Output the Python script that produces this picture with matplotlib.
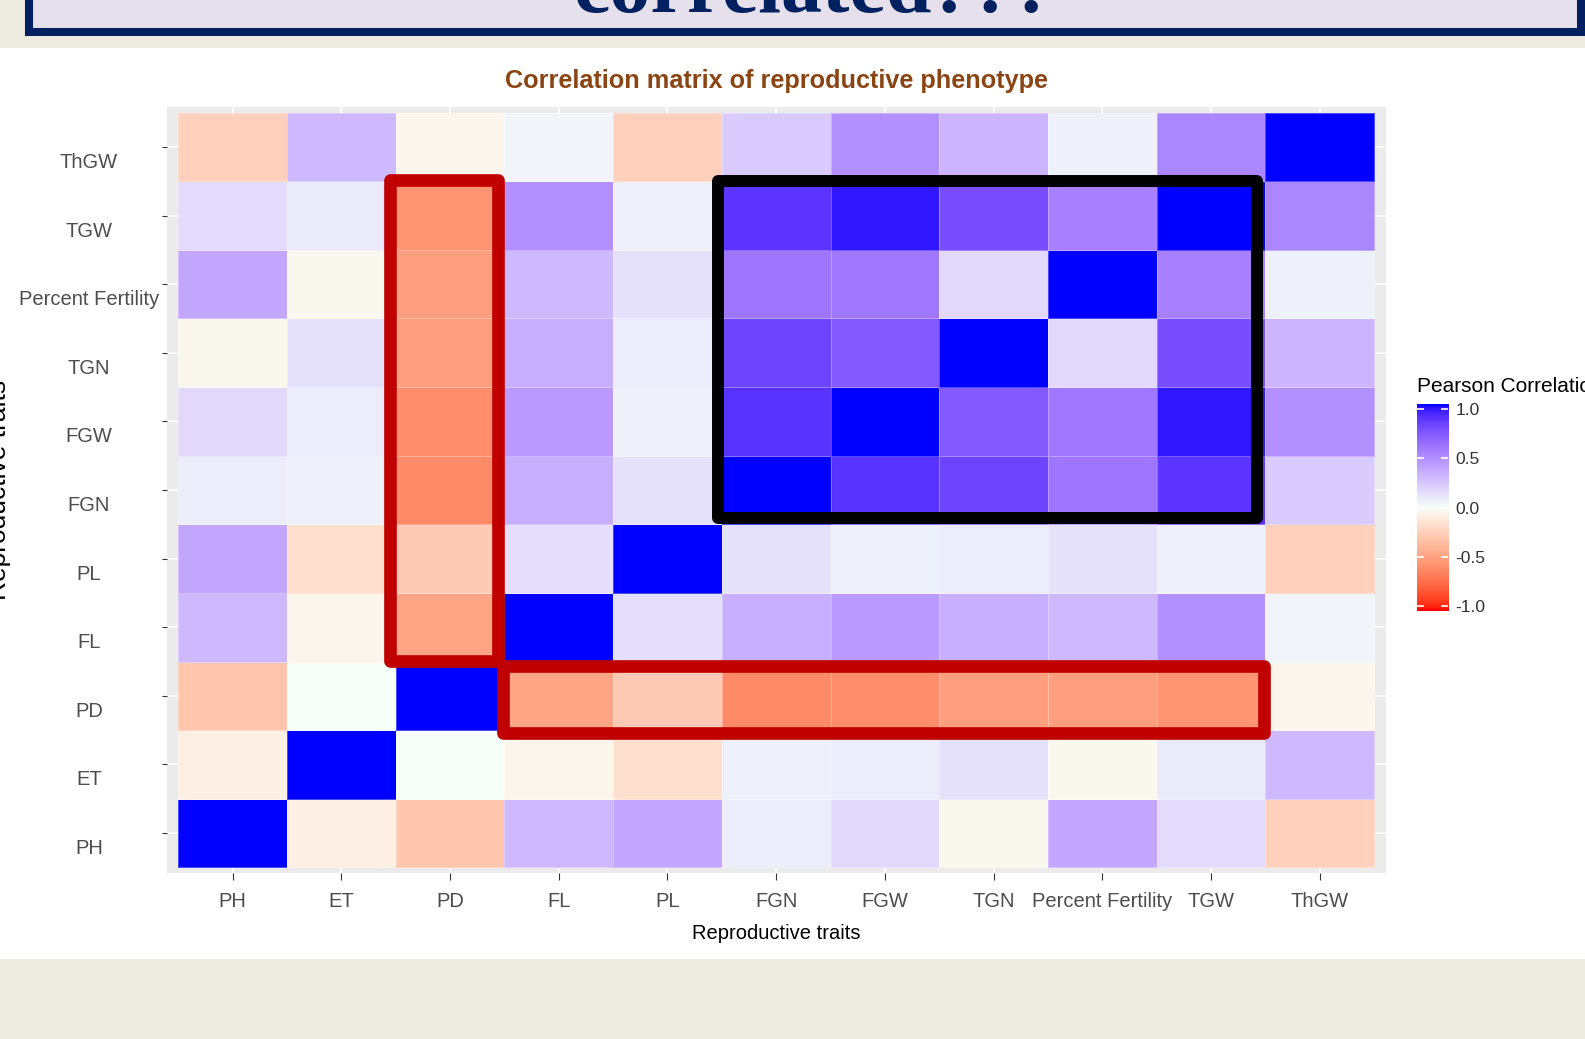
import numpy as np
import matplotlib
matplotlib.use("Agg")
import matplotlib.pyplot as plt
from matplotlib.colors import ListedColormap, Normalize
from matplotlib.patches import Rectangle
from matplotlib import transforms

plt.rcParams['font.family'] = ['Liberation Sans', 'DejaVu Sans']

traits = ['PH', 'ET', 'PD', 'FL', 'PL', 'FGN', 'FGW', 'TGN', 'Percent Fertility', 'TGW', 'ThGW']

# Pearson r for each trait against every trait (same order as `traits`)
r_PH   = [1.00, -0.08, -0.30, 0.30, 0.38, 0.08, 0.17, -0.04, 0.38, 0.15, -0.25]
r_ET   = [-0.08, 1.00, 0.00, -0.05, -0.17, 0.06, 0.08, 0.13, -0.04, 0.09, 0.30]
r_PD   = [-0.30, 0.00, 1.00, -0.47, -0.28, -0.60, -0.58, -0.50, -0.50, -0.55, -0.05]
r_FL   = [0.30, -0.05, -0.47, 1.00, 0.14, 0.35, 0.43, 0.35, 0.30, 0.48, 0.04]
r_PL   = [0.38, -0.17, -0.28, 0.14, 1.00, 0.13, 0.06, 0.08, 0.13, 0.06, -0.25]
r_FGN  = [0.08, 0.06, -0.60, 0.35, 0.13, 1.00, 0.87, 0.80, 0.60, 0.86, 0.22]
r_FGW  = [0.17, 0.08, -0.58, 0.43, 0.06, 0.87, 1.00, 0.72, 0.58, 0.96, 0.48]
r_TGN  = [-0.04, 0.13, -0.50, 0.35, 0.08, 0.80, 0.72, 1.00, 0.17, 0.77, 0.32]
r_PF   = [0.38, -0.04, -0.50, 0.30, 0.13, 0.60, 0.58, 0.17, 1.00, 0.55, 0.06]
r_TGW  = [0.15, 0.09, -0.55, 0.48, 0.06, 0.86, 0.96, 0.77, 0.55, 1.00, 0.52]
r_ThGW = [-0.25, 0.30, -0.05, 0.04, -0.25, 0.22, 0.48, 0.32, 0.06, 0.52, 1.00]

corr = np.array([r_PH, r_ET, r_PD, r_FL, r_PL, r_FGN, r_FGW, r_TGN, r_PF, r_TGW, r_ThGW])


# red - mid - blue diverging scale, interpolated in CIELAB like ggplot's gradient2
WHITE_PT = np.array([0.95047, 1.0, 1.08883])
M_RGB2XYZ = np.array([[0.4124564, 0.3575761, 0.1804375],
                      [0.2126729, 0.7151522, 0.0721750],
                      [0.0193339, 0.1191920, 0.9503041]])


def rgb2lab(rgb):
    rgb = np.asarray(rgb, float)
    lin = np.where(rgb <= 0.04045, rgb / 12.92, ((rgb + 0.055) / 1.055) ** 2.4)
    xyz = lin @ M_RGB2XYZ.T / WHITE_PT
    f = np.where(xyz > 0.008856, np.cbrt(xyz), 7.787 * xyz + 16 / 116)
    return np.stack([116 * f[..., 1] - 16,
                     500 * (f[..., 0] - f[..., 1]),
                     200 * (f[..., 1] - f[..., 2])], axis=-1)


def lab2rgb(lab):
    fy = (lab[..., 0] + 16) / 116
    fx = fy + lab[..., 1] / 500
    fz = fy - lab[..., 2] / 200
    f = np.stack([fx, fy, fz], axis=-1)
    xyz = np.where(f ** 3 > 0.008856, f ** 3, (f - 16 / 116) / 7.787) * WHITE_PT
    lin = xyz @ np.linalg.inv(M_RGB2XYZ).T
    lin = np.clip(lin, 0, 1)
    rgb = np.where(lin <= 0.0031308, lin * 12.92, 1.055 * lin ** (1 / 2.4) - 0.055)
    return np.clip(rgb, 0, 1)


lab_lo = rgb2lab([1, 0, 0])
lab_mid = rgb2lab([0.965, 1.0, 0.975])
lab_hi = rgb2lab([0, 0, 1])
v = np.linspace(-1, 1, 256)
t = np.abs(v)[:, None]
lab = np.where(v[:, None] < 0, lab_mid + (lab_lo - lab_mid) * t, lab_mid + (lab_hi - lab_mid) * t)
cmap = ListedColormap(lab2rgb(lab))
norm = Normalize(-1, 1)

W, H = 1585, 1039
fig = plt.figure(figsize=(W / 100, H / 100), dpi=100, facecolor='#EDEAE0')

# slide backdrop: white content area and the framed heading strip
bg = fig.add_axes([0, 0, 1, 1], zorder=-10)
bg.set_xlim(0, W)
bg.set_ylim(H, 0)
bg.axis('off')
bg.add_patch(Rectangle((0, 48), W, 911, fc='white', ec='none'))
bg.add_patch(Rectangle((29, -20), 1552, 52, fc='#E5E0EC', ec='#002060', lw=5.8))
bg.text(814, 12, 'correlated???', ha='center', va='baseline', fontsize=59,
        fontweight='bold', color='#002060', family=['Liberation Serif', 'DejaVu Serif'])

ax = fig.add_axes([166.7 / W, (H - 873.3) / H, 1219 / W, 766.6 / H])
ax.set_facecolor('#EBEBEB')
edges = np.arange(-0.5, len(traits) + 0.5, 1)
mesh = ax.pcolormesh(edges, edges, corr, cmap=cmap, norm=norm,
                     edgecolors=(1, 1, 1, 0.3), linewidth=0.4)
ax.set_xlim(-0.607, 10.607)
ax.set_ylim(-0.587, 10.587)
ax.grid(color='white', lw=1.1)
ax.set_axisbelow(True)
for s in ax.spines.values():
    s.set_visible(False)

ax.set_xticks(range(len(traits)), traits)
ax.tick_params(axis='x', length=5, width=0.8, color='#333333', labelsize=14.5,
               labelcolor='#4D4D4D', pad=8.5)
ax.set_yticks(range(len(traits)))
ax.tick_params(axis='y', length=3.5, width=0.8, color='#333333', labelleft=False)

# y labels are centred in the left margin, sitting a little under their ticks
ytrans = transforms.blended_transform_factory(ax.transAxes, ax.transData) + \
    transforms.ScaledTranslation(0, -0.21, fig.dpi_scale_trans)
for i, name in enumerate(traits):
    ax.text(-0.0637, i, name, transform=ytrans, ha='center', va='baseline',
            fontsize=14.5, color='#4D4D4D', clip_on=False)

ax.set_xlabel('Reproductive traits', fontsize=14.5, color='black')
ax.xaxis.set_label_coords(0.5, -0.0665)
ax.set_ylabel('Reproductive traits', fontsize=19, color='black')
ax.yaxis.set_label_coords(-0.1281, 0.5)
ax.set_title('Correlation matrix of reproductive phenotype', fontsize=18.2,
             fontweight='bold', color='#8B4513', y=1.0244, pad=0)

# highlight boxes
ax.add_patch(Rectangle((4.462, 4.592), 9.421 - 4.462, 9.504 - 4.592, fill=False,
                       ec='black', lw=8.6, joinstyle='round', zorder=5, clip_on=False))
ax.add_patch(Rectangle((1.445, 2.507), 2.439 - 1.445, 9.514 - 2.507, fill=False,
                       ec='#C00000', lw=9.1, joinstyle='round', zorder=5, clip_on=False))
ax.add_patch(Rectangle((2.487, 1.465), 9.488 - 2.487, 2.434 - 1.465, fill=False,
                       ec='#C00000', lw=9.1, joinstyle='round', zorder=5, clip_on=False))

# colour bar legend
fig.text(1417 / W, 1 - 392 / H, 'Pearson Correlation', fontsize=15, va='baseline')
cax = fig.add_axes([1416.7 / W, (H - 611) / H, 31.6 / W, 207 / H])
cax.imshow(np.linspace(-1, 1, 300)[:, None], cmap=cmap, norm=norm, origin='lower',
           extent=(0, 1, -1.05, 1.05), aspect='auto')
cax.set_xticks([])
cax.set_yticks([-1, -0.5, 0, 0.5, 1], ['-1.0', '-0.5', '0.0', '0.5', '1.0'])
cax.tick_params(axis='y', direction='in', left=True, right=True, labelleft=False,
                labelright=True, color='white', length=5, width=1.2, labelsize=12.5,
                labelcolor='#333333', pad=5)
for s in cax.spines.values():
    s.set_visible(False)

fig.savefig('out.png', dpi=100, facecolor=fig.get_facecolor())
